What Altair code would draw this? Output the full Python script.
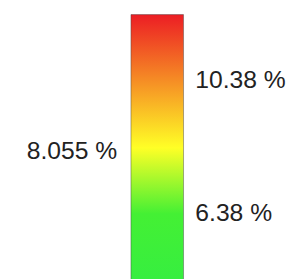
import altair as alt
import pandas as pd

# values
bar_top = [12.344]
bar_bottom = [4.3]
right_values = [10.38, 6.38]
left_values = [8.055]

grad_offsets = [0.0, 0.498, 0.745, 1.0]
grad_colors = ["#ec1d24", "#ffff26", "#44f034", "#36ee40"]

bar_df = pd.DataFrame({"x0": [0], "x1": [1], "top": bar_top, "bottom": bar_bottom})
right_df = pd.DataFrame({"xe": [1] * len(right_values), "v": right_values,
                         "label": [f"{v} %" for v in right_values]})
left_df = pd.DataFrame({"xe": [0] * len(left_values), "v": left_values,
                        "label": [f"{v} %" for v in left_values]})

yscale = alt.Scale(domain=[4.3, 12.484], nice=False, zero=False)
xscale = alt.Scale(domain=[-2.058, 3.045], nice=False, zero=False)

bar = alt.Chart(bar_df).mark_rect(
    fill=alt.Gradient(
        gradient="linear",
        stops=[alt.GradientStop(offset=o, color=c) for o, c in zip(grad_offsets, grad_colors)],
        x1=0, x2=0, y1=0, y2=1,
    ),
    stroke="#444", strokeOpacity=0.45, strokeWidth=1,
).encode(
    x=alt.X("x0:Q", scale=xscale, axis=None),
    x2="x1:Q",
    y=alt.Y("top:Q", scale=yscale, axis=None),
    y2="bottom:Q",
)

font = dict(font="Liberation Sans", fontSize=25, color="#222222", baseline="middle")

right = alt.Chart(right_df).mark_text(align="left", dx=12, **font).encode(
    x=alt.X("xe:Q", scale=xscale, axis=None),
    y=alt.Y("v:Q", scale=yscale, axis=None),
    text="label:N",
)

left = alt.Chart(left_df).mark_text(align="right", dx=-14, dy=-6, **font).encode(
    x=alt.X("xe:Q", scale=xscale, axis=None),
    y=alt.Y("v:Q", scale=yscale, axis=None),
    text="label:N",
)

chart = alt.layer(bar, right, left).properties(
    width=272, height=276,
    padding={"left": 15, "top": 0, "right": 0, "bottom": 0},
).configure_view(stroke=None)

chart.save("out.html", embed_options={"renderer": "svg", "actions": False})
